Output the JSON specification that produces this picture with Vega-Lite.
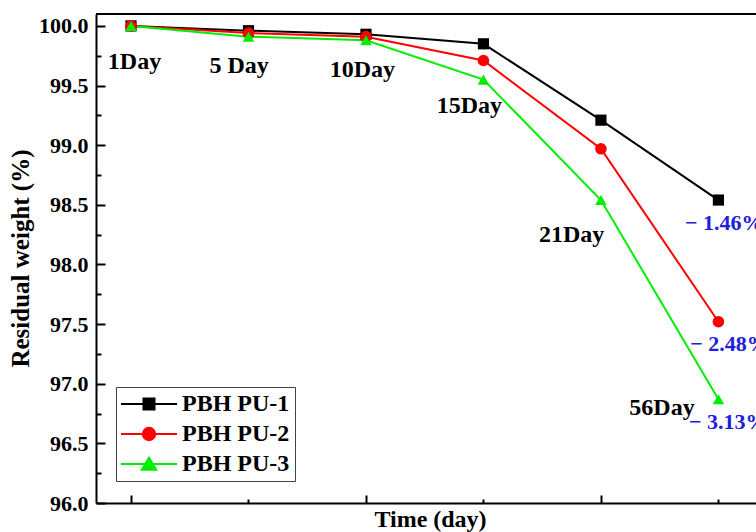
{
  "$schema": "https://vega.github.io/schema/vega-lite/v6.json",
  "autosize": {"type": "none"},
  "width": 660,
  "height": 489,
  "padding": {"left": 96, "top": 14, "right": 0, "bottom": 29},
  "background": "white",
  "config": {
    "view": {"stroke": null},
    "font": "Liberation Serif",
    "axis": {"labelFont": "Liberation Serif", "titleFont": "Liberation Serif", "labelFontWeight": "bold", "titleFontWeight": "bold", "labelColor": "black", "titleColor": "black", "domainColor": "black", "tickColor": "black", "grid": false},
    "legend": {
      "orient": "none", "legendX": 20, "legendY": 373, "title": null, "direction": "vertical",
      "strokeColor": "#444444", "padding": 5, "symbolSize": 400, "symbolOffset": 16, "labelOffset": 21, "rowPadding": 6,
      "labelFont": "Liberation Serif", "labelFontWeight": "bold", "labelFontSize": 24, "labelColor": "black", "symbolStrokeWidth": 2
    }
  },
  "datasets": {
    "weights": [
      {"series": "PBH PU-1", "t": 1, "day": 1, "w": 100.0},
      {"series": "PBH PU-1", "t": 2, "day": 5, "w": 99.96},
      {"series": "PBH PU-1", "t": 3, "day": 10, "w": 99.93},
      {"series": "PBH PU-1", "t": 4, "day": 15, "w": 99.85},
      {"series": "PBH PU-1", "t": 5, "day": 21, "w": 99.21},
      {"series": "PBH PU-1", "t": 6, "day": 56, "w": 98.54},
      {"series": "PBH PU-2", "t": 1, "day": 1, "w": 100.0},
      {"series": "PBH PU-2", "t": 2, "day": 5, "w": 99.94},
      {"series": "PBH PU-2", "t": 3, "day": 10, "w": 99.91},
      {"series": "PBH PU-2", "t": 4, "day": 15, "w": 99.71},
      {"series": "PBH PU-2", "t": 5, "day": 21, "w": 98.97},
      {"series": "PBH PU-2", "t": 6, "day": 56, "w": 97.52},
      {"series": "PBH PU-3", "t": 1, "day": 1, "w": 100.0},
      {"series": "PBH PU-3", "t": 2, "day": 5, "w": 99.91},
      {"series": "PBH PU-3", "t": 3, "day": 10, "w": 99.88},
      {"series": "PBH PU-3", "t": 4, "day": 15, "w": 99.55},
      {"series": "PBH PU-3", "t": 5, "day": 21, "w": 98.54},
      {"series": "PBH PU-3", "t": 6, "day": 56, "w": 96.87}
    ],
    "dayLabels": [
      {"label": "1Day", "t": 1.03, "w": 99.70},
      {"label": "5 Day", "t": 1.92, "w": 99.66},
      {"label": "10Day", "t": 2.97, "w": 99.63},
      {"label": "15Day", "t": 3.88, "w": 99.33},
      {"label": "21Day", "t": 4.75, "w": 98.25},
      {"label": "56Day", "t": 5.52, "w": 96.80}
    ],
    "lossLabels": [
      {"label": "− 1.46%", "t": 5.715, "w": 98.35},
      {"label": "− 2.48%", "t": 5.76, "w": 97.33},
      {"label": "− 3.13%", "t": 5.75, "w": 96.68}
    ]
  },
  "resolve": {"axis": {"x": "independent", "y": "independent"}},
  "layer": [
    {
      "data": {"values": [{"top": 100.1}]},
      "mark": {"type": "rule", "stroke": "black", "strokeWidth": 2},
      "encoding": {
        "y": {"field": "top", "type": "quantitative", "scale": {"domain": [96, 100.1]}, "axis": null}
      }
    },
    {
      "data": {"name": "weights"},
      "mark": {"type": "line", "strokeWidth": 2},
      "encoding": {
        "x": {"field": "t", "type": "quantitative", "scale": {"domain": [0.702, 6.32], "nice": false, "zero": false},
          "axis": {"orient": "bottom", "values": [1, 3, 5], "tickSize": -8, "tickWidth": 2, "domainWidth": 2, "labels": false,
            "title": "Time (day)", "titleFontSize": 24, "titleX": 334, "titleY": 4, "titleBaseline": "top", "titleAnchor": "middle", "titleAlign": "center"}},
        "y": {"field": "w", "type": "quantitative", "scale": {"domain": [96, 100.1], "nice": false, "zero": false},
          "axis": {"orient": "left", "values": [96, 96.5, 97, 97.5, 98, 98.5, 99, 99.5, 100], "format": ".1f", "tickSize": -9, "tickWidth": 2, "domainWidth": 2,
            "labelFontSize": 22, "labelPadding": 17, "title": "Residual weight (%)", "titleFontSize": 25, "titleAngle": 270, "titleX": -76, "titleY": 244, "titleAlign": "center", "titleBaseline": "middle"}},
        "color": {"field": "series", "type": "nominal", "scale": {"domain": ["PBH PU-1", "PBH PU-2", "PBH PU-3"], "range": ["#000000", "#ff0000", "#00ee00"]},
          "legend": {
            "encode": {"symbols": {"update": {
              "shape": {"signal": "datum.value === 'PBH PU-1' ? 'M-2.8,0H2.8M-0.55,-0.55H0.55V0.55H-0.55Z' : datum.value === 'PBH PU-2' ? 'M-2.8,0H2.8M-0.62,0A0.62,0.62 0 1,0 0.62,0A0.62,0.62 0 1,0 -0.62,0Z' : 'M-2.8,0H2.8M0,-0.62L0.72,0.58H-0.72Z'"},
              "fill": {"signal": "scale('color', datum.value)"},
              "stroke": {"signal": "scale('color', datum.value)"},
              "strokeWidth": {"value": 2},
              "opacity": {"value": 1}
            }}}}},
        "order": {"field": "t"}
      }
    },
    {
      "data": {"name": "weights"},
      "transform": [{"filter": "datum.series === 'PBH PU-1'"}],
      "mark": {"type": "point", "shape": "square", "filled": true, "size": 125, "opacity": 1},
      "encoding": {
        "x": {"field": "t", "type": "quantitative",
          "axis": {"orient": "bottom", "values": [2, 4, 6], "tickSize": -4, "tickWidth": 2, "domain": false, "labels": false, "title": null}},
        "y": {"field": "w", "type": "quantitative",
          "axis": {"orient": "left", "values": [96.25, 96.75, 97.25, 97.75, 98.25, 98.75, 99.25, 99.75], "tickSize": -5, "tickWidth": 2, "domain": false, "labels": false, "title": null}},
        "color": {"field": "series", "type": "nominal",
          "legend": {
            "encode": {"symbols": {"update": {
              "shape": {"signal": "datum.value === 'PBH PU-1' ? 'M-2.8,0H2.8M-0.55,-0.55H0.55V0.55H-0.55Z' : datum.value === 'PBH PU-2' ? 'M-2.8,0H2.8M-0.62,0A0.62,0.62 0 1,0 0.62,0A0.62,0.62 0 1,0 -0.62,0Z' : 'M-2.8,0H2.8M0,-0.62L0.72,0.58H-0.72Z'"},
              "fill": {"signal": "scale('color', datum.value)"},
              "stroke": {"signal": "scale('color', datum.value)"},
              "strokeWidth": {"value": 2},
              "opacity": {"value": 1}
            }}}}}
      }
    },
    {
      "data": {"name": "weights"},
      "transform": [{"filter": "datum.series === 'PBH PU-2'"}],
      "mark": {"type": "point", "shape": "circle", "filled": true, "size": 135, "opacity": 1},
      "encoding": {
        "x": {"field": "t", "type": "quantitative", "axis": null},
        "y": {"field": "w", "type": "quantitative", "axis": null},
        "color": {"field": "series", "type": "nominal",
          "legend": {
            "encode": {"symbols": {"update": {
              "shape": {"signal": "datum.value === 'PBH PU-1' ? 'M-2.8,0H2.8M-0.55,-0.55H0.55V0.55H-0.55Z' : datum.value === 'PBH PU-2' ? 'M-2.8,0H2.8M-0.62,0A0.62,0.62 0 1,0 0.62,0A0.62,0.62 0 1,0 -0.62,0Z' : 'M-2.8,0H2.8M0,-0.62L0.72,0.58H-0.72Z'"},
              "fill": {"signal": "scale('color', datum.value)"},
              "stroke": {"signal": "scale('color', datum.value)"},
              "strokeWidth": {"value": 2},
              "opacity": {"value": 1}
            }}}}}
      }
    },
    {
      "data": {"name": "weights"},
      "transform": [{"filter": "datum.series === 'PBH PU-3'"}],
      "mark": {"type": "point", "shape": "triangle-up", "filled": true, "size": 135, "opacity": 1},
      "encoding": {
        "x": {"field": "t", "type": "quantitative", "axis": null},
        "y": {"field": "w", "type": "quantitative", "axis": null},
        "color": {"field": "series", "type": "nominal",
          "legend": {
            "encode": {"symbols": {"update": {
              "shape": {"signal": "datum.value === 'PBH PU-1' ? 'M-2.8,0H2.8M-0.55,-0.55H0.55V0.55H-0.55Z' : datum.value === 'PBH PU-2' ? 'M-2.8,0H2.8M-0.62,0A0.62,0.62 0 1,0 0.62,0A0.62,0.62 0 1,0 -0.62,0Z' : 'M-2.8,0H2.8M0,-0.62L0.72,0.58H-0.72Z'"},
              "fill": {"signal": "scale('color', datum.value)"},
              "stroke": {"signal": "scale('color', datum.value)"},
              "strokeWidth": {"value": 2},
              "opacity": {"value": 1}
            }}}}}
      }
    },
    {
      "data": {"name": "dayLabels"},
      "mark": {"type": "text", "font": "Liberation Serif", "fontWeight": "bold", "fontSize": 24, "color": "black", "align": "center", "baseline": "middle"},
      "encoding": {
        "x": {"field": "t", "type": "quantitative", "axis": null},
        "y": {"field": "w", "type": "quantitative", "axis": null},
        "text": {"field": "label"}
      }
    },
    {
      "data": {"name": "lossLabels"},
      "mark": {"type": "text", "font": "Liberation Serif", "fontWeight": "bold", "fontSize": 22, "color": "#2020dc", "align": "left", "baseline": "middle"},
      "encoding": {
        "x": {"field": "t", "type": "quantitative", "axis": null},
        "y": {"field": "w", "type": "quantitative", "axis": null},
        "text": {"field": "label"}
      }
    }
  ]
}
